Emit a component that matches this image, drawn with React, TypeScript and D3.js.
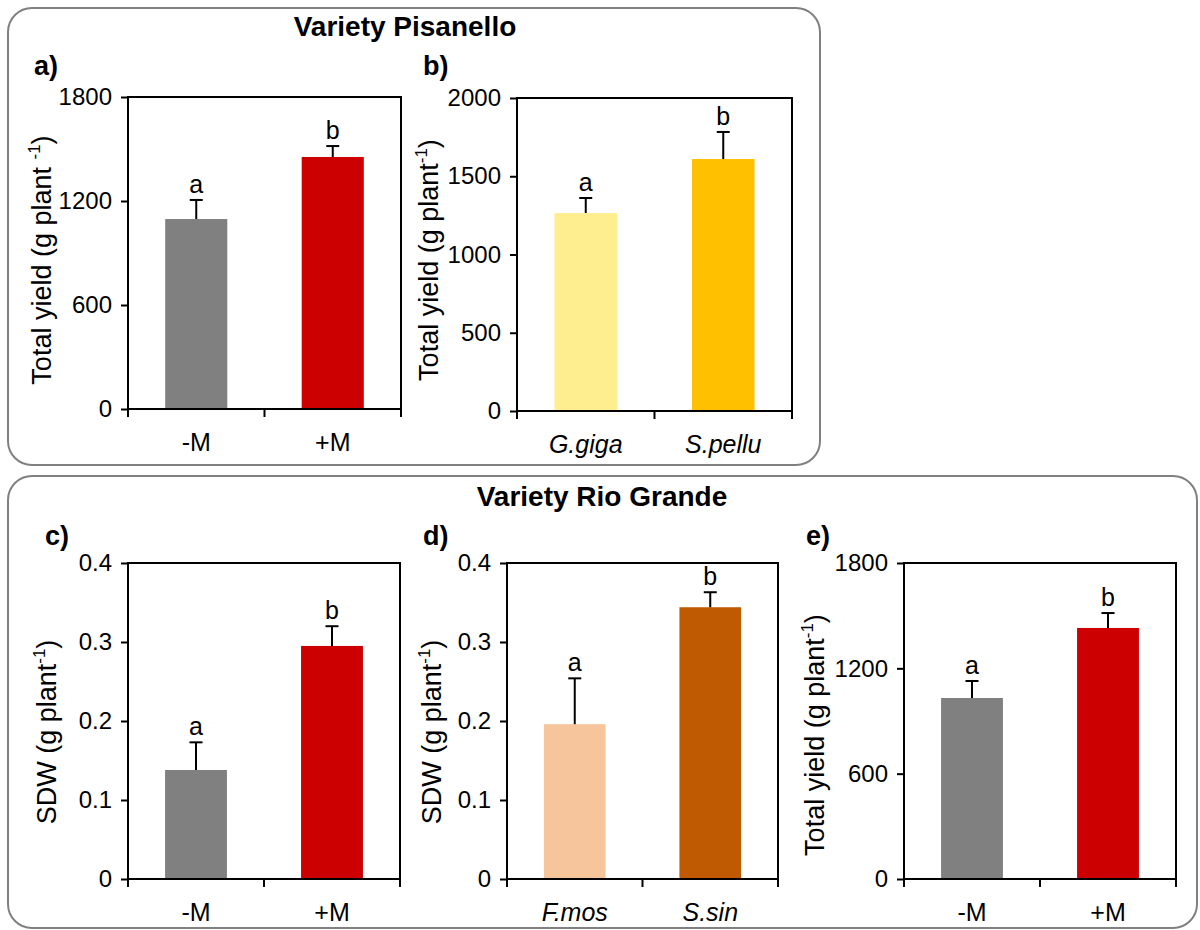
import React, { useEffect, useRef } from "react";
import * as d3 from "d3";

const FONT = "'Liberation Sans', Arial, Helvetica, sans-serif";

// a) Pisanello, mycorrhiza
const aCategories = ["-M", "+M"];
const aValues = [1096, 1454];
const aErrors = [110, 63];
const aLetters = ["a", "b"];
const aTicks = [0, 600, 1200, 1800];

// b) Pisanello, fungal species
const bCategories = ["G.giga", "S.pellu"];
const bValues = [1265, 1610];
const bErrors = [96, 173];
const bLetters = ["a", "b"];
const bTicks = [0, 500, 1000, 1500, 2000];

// c) Rio Grande, SDW
const cCategories = ["-M", "+M"];
const cValues = [0.138, 0.295];
const cErrors = [0.035, 0.025];
const cLetters = ["a", "b"];
const cTicks = [0, 0.1, 0.2, 0.3, 0.4];

// d) Rio Grande, SDW by species
const dCategories = ["F.mos", "S.sin"];
const dValues = [0.196, 0.344];
const dErrors = [0.058, 0.019];
const dLetters = ["a", "b"];
const dTicks = [0, 0.1, 0.2, 0.3, 0.4];

// e) Rio Grande, yield
const eCategories = ["-M", "+M"];
const eValues = [1031, 1430];
const eErrors = [97, 85];
const eLetters = ["a", "b"];
const eTicks = [0, 600, 1200, 1800];

type PanelProps = {
  label: string;
  labelX: number;
  labelY: number;
  left: number;
  right: number;
  top: number;
  bottom: number;
  categories: string[];
  values: number[];
  errors: number[];
  letters: string[];
  ticks: number[];
  colors: string[];
  italic?: boolean;
  titleMain: string;
  titleSpace?: boolean;
  titleX: number;
  titleY: number;
};

function Panel(p: PanelProps) {
  const ref = useRef<SVGGElement>(null);

  useEffect(() => {
    const g = d3.select(ref.current);
    g.selectAll("*").remove();

    const x = d3.scaleBand().domain(p.categories).range([p.left, p.right]).padding(0);
    const y = d3
      .scaleLinear()
      .domain([0, p.ticks[p.ticks.length - 1]])
      .range([p.bottom, p.top]);
    const barW = x.bandwidth() * 0.455;

    // bars
    p.categories.forEach((c, i) => {
      const cx = x(c)! + x.bandwidth() / 2;
      g.append("rect")
        .attr("x", cx - barW / 2)
        .attr("y", y(p.values[i]))
        .attr("width", barW)
        .attr("height", p.bottom - y(p.values[i]))
        .attr("fill", p.colors[i]);

      const yTop = y(p.values[i] + p.errors[i]);
      g.append("line")
        .attr("x1", cx)
        .attr("x2", cx)
        .attr("y1", y(p.values[i]))
        .attr("y2", yTop)
        .attr("stroke", "#000")
        .attr("stroke-width", 2);
      g.append("line")
        .attr("x1", cx - 6.5)
        .attr("x2", cx + 6.5)
        .attr("y1", yTop)
        .attr("y2", yTop)
        .attr("stroke", "#000")
        .attr("stroke-width", 2);

      g.append("text")
        .attr("x", cx)
        .attr("y", yTop - 7)
        .attr("text-anchor", "middle")
        .attr("font-family", FONT)
        .attr("font-size", 25)
        .text(p.letters[i]);

      g.append("text")
        .attr("x", cx)
        .attr("y", p.bottom + 42)
        .attr("text-anchor", "middle")
        .attr("font-family", FONT)
        .attr("font-size", 25)
        .attr("font-style", p.italic ? "italic" : "normal")
        .text(c);
    });

    // frame
    g.append("rect")
      .attr("x", p.left)
      .attr("y", p.top)
      .attr("width", p.right - p.left)
      .attr("height", p.bottom - p.top)
      .attr("fill", "none")
      .attr("stroke", "#000")
      .attr("stroke-width", 2);

    // y axis
    const yAxis = g
      .append("g")
      .attr("transform", `translate(${p.left},0)`)
      .call(
        d3
          .axisLeft(y)
          .tickValues(p.ticks)
          .tickSize(7)
          .tickPadding(9)
          .tickFormat((d) => String(d))
      );
    yAxis.select(".domain").remove();
    yAxis.selectAll("line").attr("stroke", "#000").attr("stroke-width", 2);
    yAxis
      .selectAll("text")
      .attr("font-family", FONT)
      .attr("font-size", 24)
      .attr("fill", "#000");

    // x ticks at category boundaries
    const bounds = [...p.categories.map((c) => x(c)!), p.right];
    bounds.forEach((bx) => {
      g.append("line")
        .attr("x1", bx)
        .attr("x2", bx)
        .attr("y1", p.bottom)
        .attr("y2", p.bottom + 8)
        .attr("stroke", "#000")
        .attr("stroke-width", 2);
    });

    // y title
    const t = g
      .append("text")
      .attr("transform", `translate(${p.titleX},${p.titleY}) rotate(-90)`)
      .attr("text-anchor", "middle")
      .attr("font-family", FONT)
      .attr("font-size", 27);
    t.append("tspan").text(p.titleMain + (p.titleSpace ? " (g plant " : " (g plant"));
    t.append("tspan").attr("dy", -11).attr("font-size", 17).text("-1");
    t.append("tspan").attr("dy", 11).text(")");

    // panel label
    g.append("text")
      .attr("x", p.labelX)
      .attr("y", p.labelY)
      .attr("font-family", FONT)
      .attr("font-weight", "bold")
      .attr("font-size", 27)
      .text(p.label);
  });

  return <g ref={ref} />;
}

export default function App() {
  return (
    <svg
      width={1200}
      height={930}
      style={{ position: "absolute", left: 0, top: 0, background: "#fff" }}
    >
      <rect x={8} y={8} width={812} height={457} rx={24} fill="none" stroke="#808080" strokeWidth={2} />
      <rect x={8} y={476} width={1189} height={452} rx={24} fill="none" stroke="#808080" strokeWidth={2} />
      <text x={405} y={36} textAnchor="middle" fontFamily={FONT} fontWeight="bold" fontSize={28}>
        Variety Pisanello
      </text>
      <text x={602} y={506} textAnchor="middle" fontFamily={FONT} fontWeight="bold" fontSize={28}>
        Variety Rio Grande
      </text>

      <Panel
        label="a)"
        labelX={34}
        labelY={75}
        left={128}
        right={401}
        top={97}
        bottom={409}
        categories={aCategories}
        values={aValues}
        errors={aErrors}
        letters={aLetters}
        ticks={aTicks}
        colors={["#808080", "#CC0000"]}
        titleMain="Total yield"
        titleSpace
        titleX={51}
        titleY={260}
      />
      <Panel
        label="b)"
        labelX={423}
        labelY={75}
        left={517}
        right={792}
        top={98}
        bottom={411}
        categories={bCategories}
        values={bValues}
        errors={bErrors}
        letters={bLetters}
        ticks={bTicks}
        colors={["#FFEE90", "#FFC000"]}
        italic
        titleMain="Total yield"
        titleX={438}
        titleY={260}
      />
      <Panel
        label="c)"
        labelX={45}
        labelY={545}
        left={128}
        right={400}
        top={563}
        bottom={879}
        categories={cCategories}
        values={cValues}
        errors={cErrors}
        letters={cLetters}
        ticks={cTicks}
        colors={["#808080", "#CC0000"]}
        titleMain="SDW"
        titleX={56}
        titleY={732}
      />
      <Panel
        label="d)"
        labelX={423}
        labelY={545}
        left={507}
        right={778}
        top={563}
        bottom={879}
        categories={dCategories}
        values={dValues}
        errors={dErrors}
        letters={dLetters}
        ticks={dTicks}
        colors={["#F7C59C", "#BF5A02"]}
        italic
        titleMain="SDW"
        titleX={441}
        titleY={732}
      />
      <Panel
        label="e)"
        labelX={806}
        labelY={545}
        left={904}
        right={1176}
        top={563}
        bottom={879}
        categories={eCategories}
        values={eValues}
        errors={eErrors}
        letters={eLetters}
        ticks={eTicks}
        colors={["#808080", "#CC0000"]}
        titleMain="Total yield"
        titleX={824}
        titleY={735}
      />
    </svg>
  );
}
